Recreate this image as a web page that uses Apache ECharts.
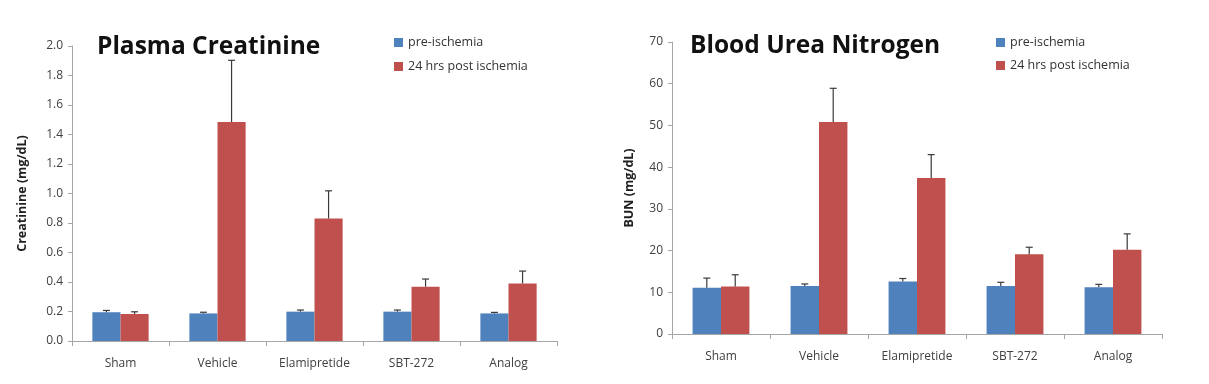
<!DOCTYPE html>
<html>
<head>
<meta charset="utf-8">
<script src="https://cdn.jsdelivr.net/npm/echarts@6/dist/echarts.min.js"></script>
<style>html,body{margin:0;padding:0;background:#fff;}#c{width:1209px;height:384px;}</style>
</head>
<body>
<div id="c"></div>
<script>
const categories = ['Sham', 'Vehicle', 'Elamipretide', 'SBT-272', 'Analog'];
const seriesNames = ['pre-ischemia', '24 hrs post ischemia'];

const creatPre = [0.195, 0.187, 0.199, 0.199, 0.187];
const creatPreErr = [0.012, 0.008, 0.011, 0.011, 0.007];
const creatPost = [0.183, 1.485, 0.831, 0.368, 0.39];
const creatPostErr = [0.015, 0.418, 0.187, 0.052, 0.084];

const bunPre = [11.1, 11.5, 12.6, 11.5, 11.2];
const bunPreErr = [2.3, 0.5, 0.7, 0.9, 0.7];
const bunPost = [11.4, 50.8, 37.4, 19.1, 20.2];
const bunPostErr = [2.8, 8.1, 5.6, 1.7, 3.8];

const titles = ['Plasma Creatinine', 'Blood Urea Nitrogen'];
const yNames = ['Creatinine (mg/dL)', 'BUN (mg/dL)'];

const BLUE = '#4F81BD', RED = '#C0504D';
const CAT_GAP = 0.42;
const FONT = "'Open Sans', 'Liberation Sans', sans-serif";

function errSeries(name, axisIdx, means, errs, side) {
  return {
    type: 'custom', name: name, xAxisIndex: axisIdx, yAxisIndex: axisIdx, z: 5,
    silent: true,
    data: means.map((m, i) => [i, m, errs[i]]),
    renderItem: function (params, api) {
      const i = api.value(0), m = api.value(1), e = api.value(2);
      const band = api.size([1, 0])[0];
      const bw = band * (1 - CAT_GAP) / 2;
      const p0 = api.coord([i, m]);
      const p1 = api.coord([i, m + e]);
      const x = p0[0] + side * bw / 2;
      const style = { stroke: '#3a3a3a', lineWidth: 1.2 };
      return {
        type: 'group',
        children: [
          { type: 'line', shape: { x1: x, y1: p0[1], x2: x, y2: p1[1] }, style: style },
          { type: 'line', shape: { x1: x - 3.5, y1: p1[1], x2: x + 3.5, y2: p1[1] }, style: style }
        ]
      };
    }
  };
}

function barSeries(name, axisIdx, data, color) {
  return {
    type: 'bar', name: name, xAxisIndex: axisIdx, yAxisIndex: axisIdx,
    data: data, barGap: '0%', barCategoryGap: (CAT_GAP * 100) + '%',
    itemStyle: { color: color }
  };
}

const axisLineStyle = { lineStyle: { color: '#a6a6a6', width: 1 } };

function xAxis(gi) {
  return {
    type: 'category', gridIndex: gi, data: categories,
    axisLine: axisLineStyle, axisTick: { show: true, length: 5, lineStyle: { color: '#a6a6a6' } },
    axisLabel: { color: '#404040', fontSize: 12, fontFamily: FONT, margin: 17 }
  };
}
function yAxis(gi, max, interval, dec, nameGap) {
  return {
    type: 'value', gridIndex: gi, min: 0, max: max, interval: interval,
    name: yNames[gi], nameLocation: 'middle', nameRotate: 90, nameGap: nameGap,
    nameTextStyle: { color: '#202020', fontSize: 12.5, fontWeight: 'bold', fontFamily: FONT },
    axisLine: { show: true, lineStyle: { color: '#a6a6a6' } },
    axisTick: { show: true, length: 4, lineStyle: { color: '#a6a6a6' } },
    splitLine: { show: false },
    axisLabel: { color: '#404040', fontSize: 12, fontFamily: FONT, margin: 9,
      formatter: v => v.toFixed(dec) }
  };
}

const chart = echarts.init(document.getElementById('c'), null, { renderer: 'canvas' });
chart.setOption({
  animation: false,
  backgroundColor: '#fff',
  title: [
    { text: titles[0], left: 92, top: 30, textStyle: { fontSize: 24.5, fontWeight: 'bold', color: '#111', fontFamily: FONT } },
    { text: titles[1], left: 685, top: 29, textStyle: { fontSize: 24.5, fontWeight: 'bold', color: '#111', fontFamily: FONT } }
  ],
  legend: [
    { data: seriesNames, orient: 'vertical', left: 389, top: 31, itemWidth: 9, itemHeight: 9, itemGap: 11,
      icon: 'rect', textStyle: { fontSize: 12.5, color: '#333', fontFamily: FONT } },
    { data: seriesNames, orient: 'vertical', left: 991, top: 31, itemWidth: 9, itemHeight: 9, itemGap: 10,
      icon: 'rect', textStyle: { fontSize: 12.5, color: '#333', fontFamily: FONT } }
  ],
  grid: [
    { left: 72, right: 652, top: 46, bottom: 43 },
    { left: 672, right: 47, top: 42, bottom: 50 }
  ],
  xAxis: [xAxis(0), xAxis(1)],
  yAxis: [yAxis(0, 2.0, 0.2, 1, 43), yAxis(1, 70, 10, 0, 36)],
  series: [
    barSeries(seriesNames[0], 0, creatPre, BLUE),
    barSeries(seriesNames[1], 0, creatPost, RED),
    errSeries('errA', 0, creatPre, creatPreErr, -1),
    errSeries('errB', 0, creatPost, creatPostErr, 1),
    barSeries(seriesNames[0], 1, bunPre, BLUE),
    barSeries(seriesNames[1], 1, bunPost, RED),
    errSeries('errC', 1, bunPre, bunPreErr, -1),
    errSeries('errD', 1, bunPost, bunPostErr, 1)
  ]
});
</script>
</body>
</html>
